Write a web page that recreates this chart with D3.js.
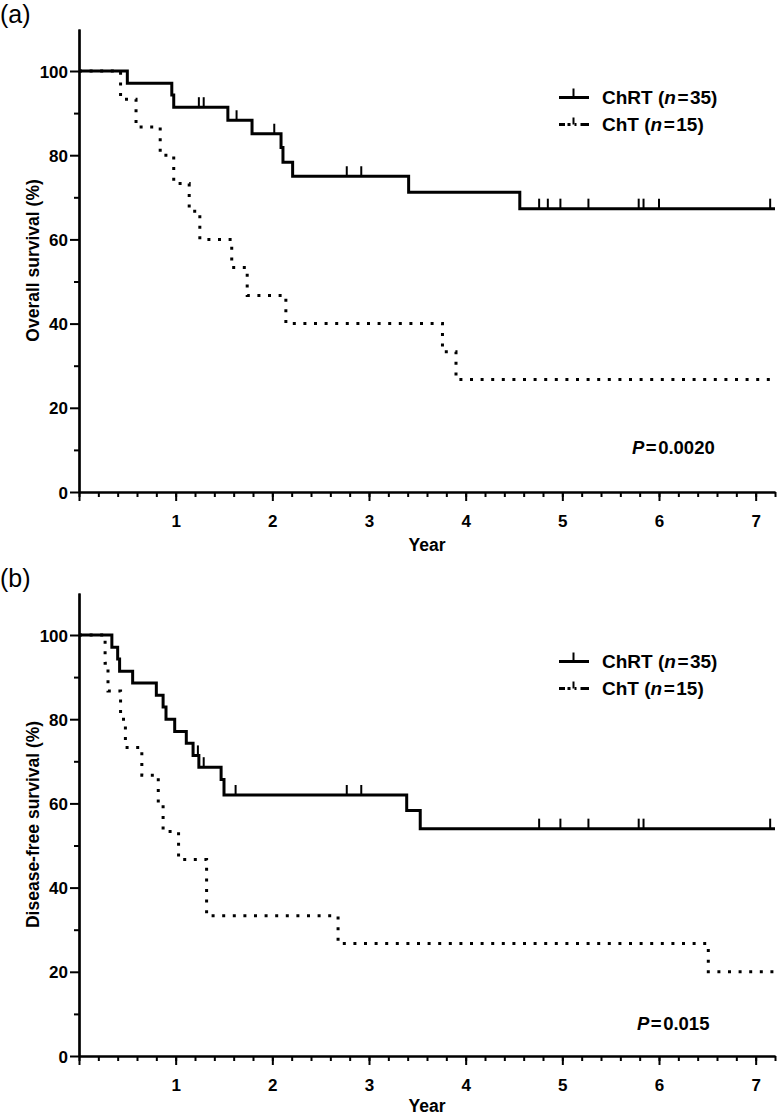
<!DOCTYPE html>
<html><head><meta charset="utf-8">
<script src="https://cdn.jsdelivr.net/npm/d3@7"></script>
<style>body{margin:0;background:#fff} svg{display:block}</style>
</head><body>
<svg id="c" width="777" height="1116"></svg>
<script>
// ---------- Data ----------
// Panel (a) Overall survival
const osChrtTimes   = [0, 0.50, 0.96, 0.98, 1.54, 1.79, 2.09, 2.11, 2.21, 3.41, 4.56];
const osChrtSurv    = [100, 97.1, 94.3, 91.4, 88.3, 85.1, 81.8, 78.3, 75.0, 71.2, 67.3];
const osChrtCensor  = [1.24, 1.29, 1.63, 2.02, 2.77, 2.92, 4.76, 4.85, 4.98, 5.27, 5.79, 5.84, 6.00, 7.15];
const osChtTimes    = [0, 0.43, 0.59, 0.84, 0.98, 1.14, 1.25, 1.58, 1.74, 2.14, 3.76, 3.90];
const osChtSurv     = [100, 93.3, 86.7, 80.0, 73.3, 66.7, 60.0, 53.3, 46.7, 40.0, 33.3, 26.7];
// Panel (b) Disease-free survival
const dfsChrtTimes  = [0, 0.34, 0.40, 0.42, 0.555, 0.80, 0.87, 0.90, 0.99, 1.11, 1.18, 1.24, 1.47, 1.50, 3.39, 3.53];
const dfsChrtSurv   = [100, 97.1, 94.3, 91.4, 88.6, 85.7, 82.9, 80.0, 77.1, 74.3, 71.4, 68.6, 65.7, 62.0, 58.3, 54.0];
const dfsChrtCensor = [1.23, 1.29, 1.62, 2.77, 2.92, 4.76, 4.98, 5.27, 5.79, 5.84, 7.15];
const dfsChtTimes   = [0, 0.27, 0.30, 0.43, 0.48, 0.65, 0.82, 0.87, 1.03, 1.32, 2.68, 6.51];
const dfsChtSurv    = [100, 93.3, 86.7, 80.0, 73.3, 66.7, 60.0, 53.3, 46.7, 33.3, 26.7, 20.0];

const xMajorTicks = [0, 1, 2, 3, 4, 5, 6, 7];
const yMajorTicks = [0, 20, 40, 60, 80, 100];
const yMinorTicks = [10, 30, 50, 70, 90];
const xMax = 7.2, yMax = 110;
const seriesNames = ["ChRT", "ChT"];
const seriesN = [35, 15];
const panelLabels = ["(a)", "(b)"];
const yTitles = ["Overall survival (%)", "Disease-free survival (%)"];
const pValues = ["0.0020", "0.015"];
const xTitle = "Year";

// ---------- Drawing ----------
const FONT = "'Liberation Sans', Arial, Helvetica, sans-serif";
const svg = d3.select("#c");
const left = 79, right = 775;

const panels = [
  {off: 0, chrtT: osChrtTimes, chrtS: osChrtSurv, chrtC: osChrtCensor, chtT: osChtTimes, chtS: osChtSurv,
   pPos: [632, 454], yearY: 551},
  {off: 564, chrtT: dfsChrtTimes, chrtS: dfsChrtSurv, chrtC: dfsChrtCensor, chtT: dfsChtTimes, chtS: dfsChtSurv,
   pPos: [637, 1030], yearY: 1112}
];

const x = d3.scaleLinear().domain([0, xMax]).range([left, right]);

panels.forEach((p, i) => {
  const y = d3.scaleLinear().domain([0, yMax]).range([492 + p.off, 492 + p.off - yMax * 4.21]);
  const g = svg.append("g");

  // panel label
  g.append("text").attr("x", 0).attr("y", 23 + p.off)
    .attr("font-family", FONT).attr("font-size", 25).text(panelLabels[i]);

  // x axis
  const minor = d3.range(0, 36).map(k => +(k * 0.2).toFixed(2)).concat([7.2]);
  const xMinorAxis = d3.axisBottom(x).tickValues(minor).tickSize(5).tickSizeOuter(0).tickFormat("");
  const xMajorAxis = d3.axisBottom(x).tickValues(xMajorTicks).tickSize(9).tickSizeOuter(0)
    .tickFormat(d => d === 0 ? "" : d);
  const gx1 = g.append("g").attr("transform", `translate(0,${y(0)})`).call(xMinorAxis);
  const gx2 = g.append("g").attr("transform", `translate(0,${y(0)})`).call(xMajorAxis);
  [gx1, gx2].forEach(a => {
    a.select(".domain").attr("stroke", "#000").attr("stroke-width", 2.2);
    a.selectAll(".tick line").attr("stroke", "#000").attr("stroke-width", 2);
  });
  gx2.selectAll(".tick text").attr("y", 35).attr("dy", 0)
    .attr("font-family", FONT).attr("font-size", 17).attr("font-weight", "bold").attr("fill", "#000");

  // y axis
  const yMajorAxis = d3.axisLeft(y).tickValues(yMajorTicks).tickSize(9).tickSizeOuter(0);
  const yMinorAxis = d3.axisLeft(y).tickValues(yMinorTicks).tickSize(5).tickSizeOuter(0).tickFormat("");
  const gy1 = g.append("g").attr("transform", `translate(${left},0)`).call(yMinorAxis);
  const gy2 = g.append("g").attr("transform", `translate(${left},0)`).call(yMajorAxis);
  [gy1, gy2].forEach(a => {
    a.select(".domain").attr("stroke", "#000").attr("stroke-width", 2.2);
    a.selectAll(".tick line").attr("stroke", "#000").attr("stroke-width", 2);
  });
  gy2.selectAll(".tick text").attr("x", -11).attr("dy", "0.36em")
    .attr("font-family", FONT).attr("font-size", 17).attr("font-weight", "bold").attr("fill", "#000");

  // axis titles
  g.append("text").attr("transform", `translate(39,${(y(0) + y(yMax)) / 2}) rotate(-90)`)
    .attr("text-anchor", "middle").attr("font-family", FONT).attr("font-size", 17.5)
    .attr("font-weight", "bold").text(yTitles[i]);
  g.append("text").attr("x", (left + right) / 2).attr("y", p.yearY)
    .attr("text-anchor", "middle").attr("font-family", FONT).attr("font-size", 17.5)
    .attr("font-weight", "bold").text(xTitle);

  // curves
  const line = d3.line().x(d => x(d[0])).y(d => y(d[1])).curve(d3.curveStepAfter);
  const pts = (T, S) => T.map((t, k) => [t, S[k]]).concat([[xMax, S[S.length - 1]]]);
  const level = (T, S, t) => { let v = S[0]; T.forEach((tt, k) => { if (tt <= t) v = S[k]; }); return v; };

  g.append("path").datum(pts(p.chtT, p.chtS)).attr("d", line)
    .attr("fill", "none").attr("stroke", "#000").attr("stroke-width", 3)
    .attr("stroke-dasharray", "3 7.6");
  g.append("path").datum(pts(p.chrtT, p.chrtS)).attr("d", line)
    .attr("fill", "none").attr("stroke", "#000").attr("stroke-width", 3);
  g.selectAll(".cens").data(p.chrtC).enter().append("line")
    .attr("x1", d => x(d)).attr("x2", d => x(d))
    .attr("y1", d => y(level(p.chrtT, p.chrtS, d))).attr("y2", d => y(level(p.chrtT, p.chrtS, d)) - 10)
    .attr("stroke", "#000").attr("stroke-width", 2);

  // legend
  const ly = [97.5 + p.off, 124.5 + p.off];
  g.append("line").attr("x1", 559).attr("x2", 589).attr("y1", ly[0]).attr("y2", ly[0])
    .attr("stroke", "#000").attr("stroke-width", 3);
  g.append("line").attr("x1", 573.5).attr("x2", 573.5).attr("y1", ly[0]).attr("y2", ly[0] - 9)
    .attr("stroke", "#000").attr("stroke-width", 2);
  g.append("line").attr("x1", 559).attr("x2", 589).attr("y1", ly[1]).attr("y2", ly[1])
    .attr("stroke", "#000").attr("stroke-width", 3).attr("stroke-dasharray", "6 2.5 3 4 2 4 9");
  g.append("line").attr("x1", 573.5).attr("x2", 573.5).attr("y1", ly[1]).attr("y2", ly[1] - 7)
    .attr("stroke", "#000").attr("stroke-width", 2);
  seriesNames.forEach((nm, k) => {
    const t = g.append("text").attr("x", 602).attr("y", ly[k] + 6.3)
      .attr("font-family", FONT).attr("font-size", 19).attr("font-weight", "bold");
    t.append("tspan").text(nm + " (");
    t.append("tspan").attr("font-style", "italic").text("n");
    t.append("tspan").attr("dx", 1.5).text("=");
    t.append("tspan").attr("dx", 1.5).text(seriesN[k] + ")");
  });

  // p value
  const pt = g.append("text").attr("x", p.pPos[0]).attr("y", p.pPos[1])
    .attr("font-family", FONT).attr("font-size", 18.5).attr("font-weight", "bold");
  pt.append("tspan").attr("font-style", "italic").text("P");
  pt.append("tspan").attr("dx", 1.5).text("=");
  pt.append("tspan").attr("dx", 1.5).text(pValues[i]);
});
</script>
</body></html>
